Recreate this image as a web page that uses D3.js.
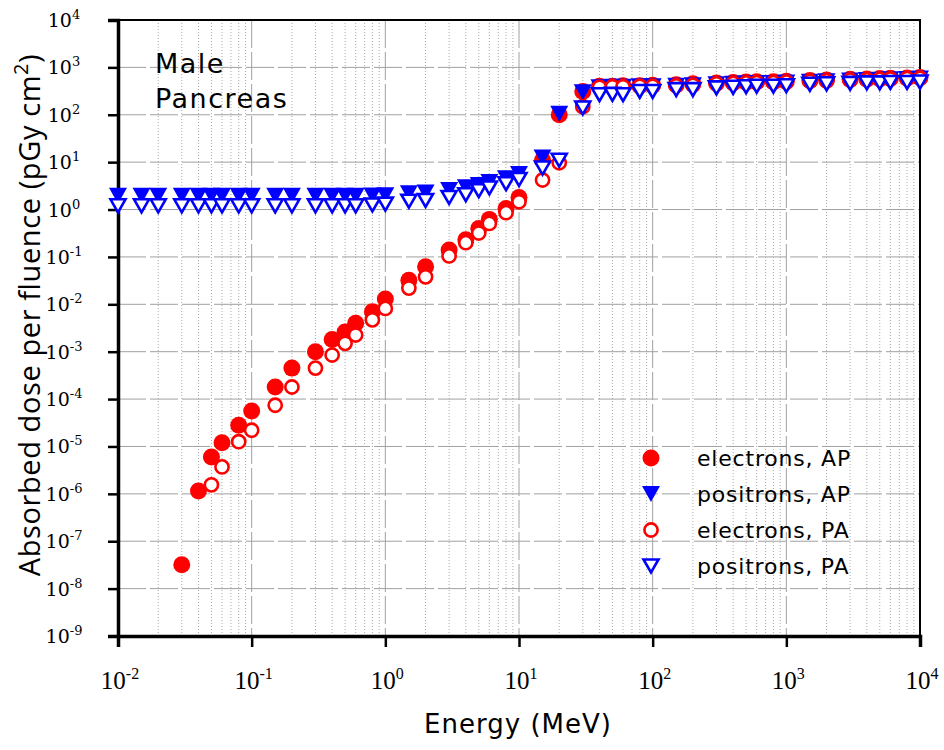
<!DOCTYPE html>
<html>
<head>
<meta charset="utf-8">
<script src="https://cdn.jsdelivr.net/npm/d3@7"></script>
<style>
body { margin: 0; background: #fff; }
</style>
</head>
<body>
<div id="chart"></div>
<script>
// Energies (MeV) shared by all four series.
const energies = [0.01, 0.015, 0.02, 0.03, 0.04, 0.05, 0.06, 0.08, 0.1, 0.15, 0.2, 0.3, 0.4, 0.5, 0.6, 0.8,
    1, 1.5, 2, 3, 4, 5, 6, 8, 10, 15, 20, 30, 40, 50, 60, 80, 100, 150, 200, 300, 400, 500, 600, 800,
    1000, 1500, 2000, 3000, 4000, 5000, 6000, 8000, 10000]

// Absorbed dose per fluence (pGy cm2), null where no point is shown.
const electronsAP = [null, null, null, 3.2e-8, 1.15e-6, 6.0e-6, 1.2e-5, 2.8e-5, 5.6e-5, 1.8e-4, 4.5e-4, 1.0e-3, 1.8e-3, 2.6e-3, 4.0e-3, 7.0e-3,
    1.3e-2, 3.2e-2, 6.2e-2, 0.14, 0.23, 0.40, 0.62, 1.05, 1.8, 11, 100, 310, 400, 400, 410, 410, 420, 430, 450, 470, 480, 490, 500, 500,
    510, 530, 540, 560, 570, 580, 590, 600, 610]
const positronsAP = [1.95, 1.95, 1.95, 1.95, 1.95, 1.95, 1.95, 1.95, 1.95, 1.95, 1.95, 1.95, 1.95, 1.95, 1.95, 1.98,
    2.0, 2.2, 2.3, 2.6, 2.95, 3.3, 3.8, 4.6, 5.6, 12.5, 105, 300, 380, 390, 390, 400, 400, 410, 420, 440, 450, 460, 470, 470,
    480, 500, 510, 530, 540, 550, 560, 570, 580]
const electronsPA = [null, null, null, null, null, 1.55e-6, 3.7e-6, 1.26e-5, 2.2e-5, 7.4e-5, 1.8e-4, 4.5e-4, 8.5e-4, 1.5e-3, 2.25e-3, 4.7e-3,
    8.2e-3, 2.2e-2, 3.8e-2, 0.105, 0.20, 0.32, 0.51, 0.86, 1.46, 4.2, 9.7, 148, 380, 390, 390, 400, 400, 410, 420, 450, 460, 470, 480, 480,
    490, 510, 520, 540, 550, 560, 570, 580, 590]
const positronsPA = [1.2, 1.2, 1.2, 1.2, 1.2, 1.2, 1.2, 1.2, 1.2, 1.2, 1.2, 1.2, 1.2, 1.2, 1.2, 1.25,
    1.3, 1.5, 1.55, 1.8, 2.05, 2.5, 2.85, 3.5, 4.3, 7.5, 11, 139, 265, 270, 265, 310, 310, 340, 340, 370, 380, 390, 400, 400,
    410, 440, 450, 460, 470, 470, 480, 480, 490]

const xTicks = [1e-2, 1e-1, 1e0, 1e1, 1e2, 1e3, 1e4]
const xTickExp = ["-2", "-1", "0", "1", "2", "3", "4"]
const yTicks = [1e-9, 1e-8, 1e-7, 1e-6, 1e-5, 1e-4, 1e-3, 1e-2, 1e-1, 1e0, 1e1, 1e2, 1e3, 1e4]
const yTickExp = ["-9", "-8", "-7", "-6", "-5", "-4", "-3", "-2", "-1", "0", "1", "2", "3", "4"]

const seriesNames = ["electrons, AP", "positrons, AP", "electrons, PA", "positrons, PA"]
const seriesValues = [electronsAP, positronsAP, electronsPA, positronsPA]

// Layout.
let width = 944
let height = 750
let margins = {"left": 118, "right": 24, "top": 20, "bottom": 114};
let plotW = width - margins.left - margins.right
let plotH = height - margins.top - margins.bottom

let svg = d3.select("#chart").append("svg")
    .attr("width", width)
    .attr("height", height)

let g = svg.append("g")
    .attr("transform", "translate(" + margins.left + "," + margins.top + ")");

let xRange = d3.scaleLog().domain([1e-2, 1e4]).range([0, plotW]);
let yRange = d3.scaleLog().domain([1e-9, 1e4]).range([plotH, 0]);

// Minor grid (dotted) then major grid.
let gridG = g.append("g")
gridG.selectAll("line.xminor")
    .data(xRange.ticks().filter(d => xTicks.indexOf(d) < 0))
    .enter().append("line")
    .attr("x1", d => xRange(d)).attr("x2", d => xRange(d))
    .attr("y1", 0).attr("y2", plotH)
    .style("stroke", "#a8a8a8").style("stroke-width", 1).style("stroke-dasharray", "1,2")
gridG.selectAll("line.yminor")
    .data(yRange.ticks().filter(d => yTicks.indexOf(d) < 0))
    .enter().append("line")
    .attr("x1", 0).attr("x2", plotW)
    .attr("y1", d => yRange(d)).attr("y2", d => yRange(d))
    .style("stroke", "#a8a8a8").style("stroke-width", 1).style("stroke-dasharray", "1,2")
gridG.selectAll("line.ymajor")
    .data(yTicks)
    .enter().append("line")
    .attr("x1", 0).attr("x2", plotW)
    .attr("y1", d => yRange(d)).attr("y2", d => yRange(d))
    .style("stroke", "#a0a0a0").style("stroke-width", 1).style("stroke-dasharray", "28,4")
gridG.selectAll("line.xmajor")
    .data(xTicks)
    .enter().append("line")
    .attr("x1", d => xRange(d)).attr("x2", d => xRange(d))
    .attr("y1", 0).attr("y2", plotH)
    .style("stroke", "#a0a0a0").style("stroke-width", 1).style("stroke-dasharray", "28,4")

// Frame.
g.append("rect")
    .attr("x", 0).attr("y", 0).attr("width", plotW).attr("height", plotH)
    .style("fill", "none").style("stroke", "#000").style("stroke-width", 2)

// Axes.
let xAxis = d3.axisBottom(xRange).tickValues(xTicks).tickSize(11).tickFormat("");
let yAxis = d3.axisLeft(yRange).tickValues(yTicks).tickSize(10).tickFormat("");

let xg = g.append("g").attr("transform", "translate(0," + plotH + ")").call(xAxis);
let yg = g.append("g").call(yAxis);
xg.select(".domain").style("stroke-width", 3.5)
yg.select(".domain").style("stroke-width", 3.5)
xg.selectAll(".tick line").style("stroke-width", 2.5)
yg.selectAll(".tick line").style("stroke-width", 2.5)

// Tick labels with superscripts.
xTicks.forEach(function(t, i) {
    let txt = g.append("text")
        .attr("x", xRange(t) + 2)
        .attr("y", plotH + 53)
        .style("font-family", "Liberation Serif")
        .style("font-size", "25px")
        .style("text-anchor", "middle")
    txt.append("tspan").text("10")
    txt.append("tspan").attr("dy", -10).style("font-size", "16px").text(xTickExp[i])
});
yTicks.forEach(function(t, i) {
    let txt = g.append("text")
        .attr("x", -54)
        .attr("y", yRange(t) + 7)
        .style("font-family", "DejaVu Serif")
        .style("font-size", "19px")
        .style("text-anchor", "middle")
    txt.append("tspan").text("10")
    txt.append("tspan").attr("dy", -8).style("font-size", "13px").text(yTickExp[i])
});

// Axis titles.
svg.append("text")
    .attr("x", 518)
    .attr("y", 733)
    .style("font-family", "DejaVu Sans")
    .style("font-size", "26px")
    .style("letter-spacing", "1px")
    .style("text-anchor", "middle")
    .text("Energy (MeV)");

let yTitle = svg.append("text")
    .attr("transform", "translate(40,315) rotate(-90)")
    .style("font-family", "Open Sans")
    .style("font-size", "29px")
    .style("letter-spacing", "0.6px")
    .style("text-anchor", "middle")
yTitle.append("tspan").text("Absorbed dose per fluence (pGy cm")
yTitle.append("tspan").attr("dy", -12).style("font-size", "20px").text("2")
yTitle.append("tspan").attr("dy", 12).text(")")

// Annotation.
g.append("text").attr("x", 37).attr("y", 53)
    .style("font-family", "DejaVu Sans").style("font-size", "27px").style("letter-spacing", "1.5px").text("Male")
g.append("text").attr("x", 37).attr("y", 88)
    .style("font-family", "DejaVu Sans").style("font-size", "27px").style("letter-spacing", "1.5px").text("Pancreas")

// Marker styles.
function triPath(w, h) {
    return "M" + (-w / 2) + "," + (-h / 2) + "L" + (w / 2) + "," + (-h / 2) + "L0," + (h / 2) + "Z";
}
function drawMarker(sel, i) {
    if (i === 0) {
        sel.append("circle").attr("r", 8.5).style("fill", "#ff0000")
    } else if (i === 1) {
        sel.append("path").attr("d", triPath(18, 16)).style("fill", "#0000ff")
    } else if (i === 2) {
        sel.append("circle").attr("r", 6.6).style("fill", "#fff")
            .style("stroke", "#ff0000").style("stroke-width", 2.6)
    } else {
        sel.append("path").attr("d", triPath(15, 13)).style("fill", "#fff")
            .style("stroke", "#0000ff").style("stroke-width", 2.6).style("stroke-linejoin", "miter")
    }
}

// Plot the marks.
seriesValues.forEach(function(vals, i) {
    let pts = energies.map((e, k) => ({e: e, v: vals[k]})).filter(d => d.v !== null);
    let sg = g.append("g");
    sg.selectAll("g")
        .data(pts)
        .enter()
        .append("g")
        .attr("transform", d => "translate(" + xRange(d.e) + "," + yRange(d.v) + ")")
        .each(function() { drawMarker(d3.select(this), i); });
});

// Legend.
let legend = g.append("g").attr("transform", "translate(533,438)")
seriesNames.forEach(function(name, i) {
    let row = legend.append("g").attr("transform", "translate(0," + (i * 36) + ")")
    drawMarker(row, i)
    row.append("text")
        .attr("x", 46)
        .attr("y", 8)
        .style("font-family", "DejaVu Sans")
        .style("font-size", "22px")
        .style("letter-spacing", "0.8px")
        .text(name)
});
</script>
</body>
</html>
